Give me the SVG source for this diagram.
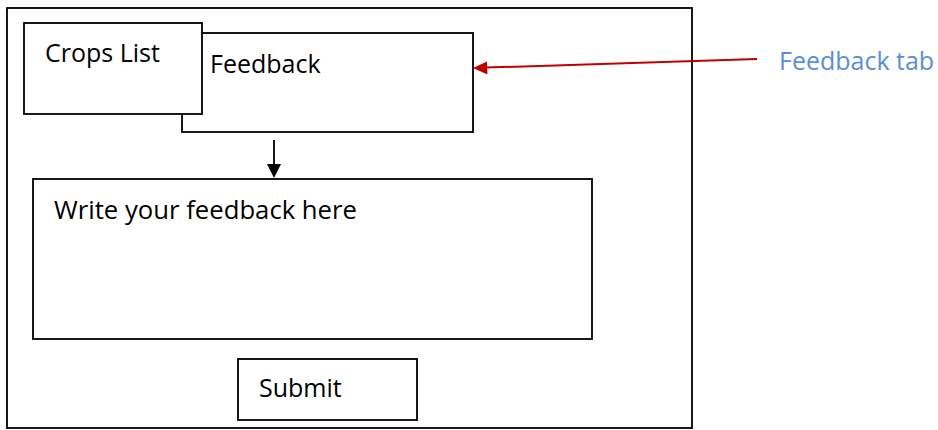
<svg xmlns="http://www.w3.org/2000/svg" width="938" height="430" viewBox="0 0 938 430">
<style>
.box{fill:#fff;stroke:#000;stroke-width:1.8}
.t{font-family:"Open Sans","Liberation Sans",sans-serif;font-size:25px;fill:#000}
.blue{fill:#5B8ED6}
</style>
<g id="window"><rect x="7" y="8" width="685" height="420" class="box" stroke-width="2"/></g>
<g id="feedback-tab"><rect x="182" y="33" width="291" height="99" class="box"/><text x="210" y="73" class="t">Feedback</text></g>
<g id="crops-list"><rect x="24" y="23" width="178" height="91" class="box"/><text x="45" y="62" class="t">Crops List</text></g>
<g id="feedback-input"><rect x="33" y="179" width="559" height="160" class="box"/><text x="54" y="219" class="t" style="font-size:25.7px">Write your feedback here</text></g>
<g id="submit"><rect x="238" y="359" width="179" height="61" class="box"/><text x="259" y="397" class="t">Submit</text></g>
<g id="annotation"><text x="779" y="70" class="t blue">Feedback tab</text></g>
<g id="connectors">
<line x1="274" y1="140" x2="274" y2="166" stroke="#000" stroke-width="1.8"/>
<path d="M267,164 L281,164 L274,178 Z" fill="#000"/>
<line x1="757" y1="59" x2="486" y2="67.6" stroke="#C00000" stroke-width="2"/>
<path d="M473,68 L487,61.5 L487.4,74.5 Z" fill="#C00000"/>
</g>
</svg>
